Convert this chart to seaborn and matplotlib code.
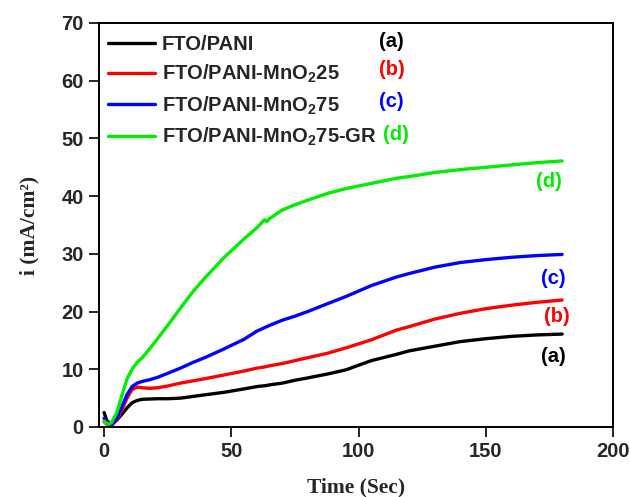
import matplotlib
matplotlib.use("Agg")
import matplotlib.pyplot as plt
import seaborn as sns
import pandas as pd

# Chronoamperometry data: current density vs time for each electrode
time_s = [0, 1, 2, 3, 5, 7, 9, 11, 13, 15, 18, 21, 25, 30, 35, 40, 47, 55, 60,
          63, 64, 65, 70, 75, 80, 88, 95, 105, 115, 120, 130, 140, 150, 160, 170, 180]

pani = [2.5, 1.2, 0.7, 0.6, 1.2, 2.2, 3.3, 4.2, 4.6, 4.8, 4.85, 4.9, 4.9, 5.0, 5.3, 5.6,
        6.0, 6.6, 7.0, 7.15, 7.2, 7.3, 7.6, 8.1, 8.5, 9.2, 9.9, 11.5, 12.6, 13.2, 14.0,
        14.8, 15.3, 15.7, 15.95, 16.1]

pani_mno2_25 = [0.9, 0.5, 0.25, 0.3, 1.2, 3.0, 5.0, 6.5, 6.9, 6.8, 6.7, 6.8, 7.1, 7.6, 8.0,
                8.4, 9.0, 9.7, 10.2, 10.4, 10.5, 10.6, 11.0, 11.5, 12.0, 12.8, 13.7, 15.1,
                16.8, 17.4, 18.7, 19.7, 20.5, 21.1, 21.6, 22.0]

pani_mno2_75 = [1.5, 0.8, 0.4, 0.4, 1.5, 3.5, 5.6, 7.0, 7.6, 7.9, 8.2, 8.6, 9.3, 10.2, 11.2,
                12.1, 13.5, 15.2, 16.6, 17.2, 17.4, 17.6, 18.5, 19.2, 20.0, 21.4, 22.6, 24.5,
                26.0, 26.6, 27.7, 28.5, 29.0, 29.4, 29.7, 29.9]

pani_mno2_75_gr = [1.0, 0.6, 0.5, 0.8, 2.5, 5.5, 8.3, 10.0, 11.2, 12.0, 13.6, 15.3, 17.6,
                   20.6, 23.5, 26.0, 29.3, 32.6, 34.5, 35.9, 35.6, 36.1, 37.6, 38.5, 39.3,
                   40.5, 41.3, 42.2, 43.1, 43.4, 44.1, 44.6, 45.0, 45.4, 45.8, 46.1]

series_labels = ["FTO/PANI", "FTO/PANI-MnO$_2$25", "FTO/PANI-MnO$_2$75",
                 "FTO/PANI-MnO$_2$75-GR"]
series_tags = ["(a)", "(b)", "(c)", "(d)"]
series_colors = ["#000000", "#ff0000", "#0000ff", "#00ee00"]

# curve annotation anchors (time, current)
tag_x = [176.5, 178, 176.5, 175]
tag_y = [12.3, 19.1, 25.8, 42.5]

x_ticks = [0, 50, 100, 150, 200]
y_ticks = [0, 10, 20, 30, 40, 50, 60, 70]

all_values = [pani, pani_mno2_25, pani_mno2_75, pani_mno2_75_gr]
df = pd.concat(
    [pd.DataFrame({"t": time_s, "i": vals, "sample": lab})
     for vals, lab in zip(all_values, series_labels)],
    ignore_index=True,
)

sns.set_style("ticks")
plt.rcParams["font.family"] = ["Liberation Sans", "DejaVu Sans"]
plt.rcParams["font.weight"] = "bold"
plt.rcParams["mathtext.fontset"] = "custom"
plt.rcParams["mathtext.rm"] = "Liberation Sans:bold"
plt.rcParams["mathtext.it"] = "Liberation Sans:bold"
plt.rcParams["mathtext.bf"] = "Liberation Sans:bold"
plt.rcParams["mathtext.default"] = "rm"

fig = plt.figure(figsize=(6.3, 4.97), dpi=100)
ax = fig.add_axes([99 / 630, 1 - 427 / 497, 514 / 630, 404 / 497])

palette = dict(zip(series_labels, series_colors))
sns.lineplot(data=df, x="t", y="i", hue="sample", hue_order=series_labels,
             palette=palette, linewidth=2.4, ax=ax, legend=True, sort=False)

ax.set_xlim(-2, 200)
ax.set_ylim(0, 70)
ax.set_xticks(x_ticks)
ax.set_yticks(y_ticks)
ax.tick_params(axis="both", direction="out", length=7, width=1.4, pad=4,
               labelsize=14.5, top=False, right=False)
for lbl in ax.get_xticklabels() + ax.get_yticklabels():
    lbl.set_fontweight("bold")
for sp in ax.spines.values():
    sp.set_visible(True)
    sp.set_linewidth(1.4)
    sp.set_color("black")

ax.set_xlabel("Time (Sec)", fontfamily="Liberation Serif", fontweight="bold",
              fontsize=15.5, labelpad=12)
ax.set_ylabel("i (mA/cm²)", fontfamily="Liberation Serif", fontweight="bold",
              fontsize=15.5, labelpad=16)

handles, labels = ax.get_legend_handles_labels()
leg = ax.legend(handles, labels, loc="upper left", bbox_to_anchor=(0.0175, 0.971),
                frameon=False, fontsize=14.5, handlelength=2.35, handletextpad=0.33,
                borderpad=0, borderaxespad=0, labelspacing=0.46)
for txt in leg.get_texts():
    txt.set_fontweight("bold")
for ln in leg.get_lines():
    ln.set_linewidth(2.4)

# colored tags after legend entries
legend_tag_y = [0.954, 0.884, 0.805, 0.725]
legend_tag_x = [0.544, 0.544, 0.544, 0.553]
for tag, col, lx, ly in zip(series_tags, series_colors, legend_tag_x, legend_tag_y):
    ax.text(lx, ly, tag, color=col, fontsize=14.5, fontweight="bold",
            transform=ax.transAxes, ha="left", va="center")

# tags next to curve ends
for tag, col, tx, ty in zip(series_tags, series_colors, tag_x, tag_y):
    ax.text(tx, ty, tag, color=col, fontsize=14.5, fontweight="bold",
            ha="center", va="center")

fig.savefig("out.png", dpi=100)
